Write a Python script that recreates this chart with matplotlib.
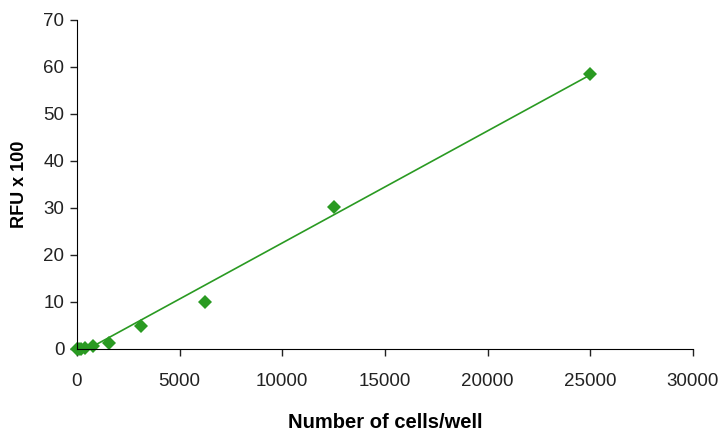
import numpy as np
import matplotlib

matplotlib.use("Agg")
import matplotlib.pyplot as plt

CELLS = [0, 98, 195, 390, 781, 1562, 3125, 6250, 12500, 25000]
RFU = [0.0, 0.05, 0.1, 0.3, 0.6, 1.3, 4.9, 10.1, 30.3, 58.5]
X_TICKS = [0, 5000, 10000, 15000, 20000, 25000, 30000]
Y_TICKS = [0, 10, 20, 30, 40, 50, 60, 70]

GREEN = "#2A9A22"

plt.rcParams.update({
    "font.family": ["Liberation Sans", "DejaVu Sans"],
    "font.size": 13.5,
})

fig = plt.figure(figsize=(7.22, 4.33), dpi=100)
ax = fig.add_axes([0.1066, 0.194, 0.853, 0.760])

# linear trendline through the data
slope, intercept = np.polyfit(CELLS, RFU, 1)
fit_x = np.array([0, max(CELLS)])
ax.plot(fit_x, slope * fit_x + intercept, color=GREEN, linewidth=1.2)
ax.plot(CELLS, RFU, linestyle="none", marker="D", markersize=7,
        color=GREEN, markeredgewidth=0, clip_on=False)

ax.set_xlim(0, 30000)
ax.set_ylim(0, 70)
ax.set_xticks(X_TICKS)
ax.set_yticks(Y_TICKS)
ax.spines["top"].set_visible(False)
ax.spines["right"].set_visible(False)
ax.tick_params(direction="out", length=5, width=1, labelsize=13.5, colors="#222222")
ax.tick_params(axis="y", pad=4)
ax.tick_params(axis="x", pad=12)
ax.set_xlabel("Number of cells/well", fontweight="bold", fontsize=14.5, labelpad=17)
ax.set_ylabel("RFU x 100", fontweight="bold", fontsize=13, labelpad=11)

fig.savefig("out.png", dpi=100)
